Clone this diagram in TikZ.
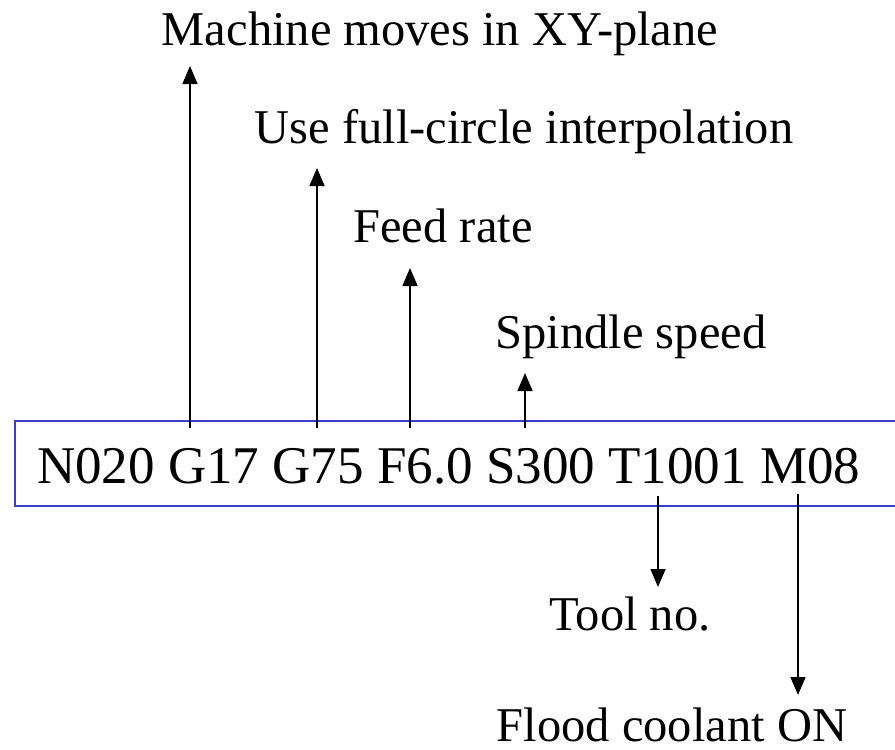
\documentclass[tikz,border=0pt]{standalone}
\usepackage{fontspec}
\setmainfont{Liberation Serif}
\usetikzlibrary{arrows.meta}
\definecolor{boxblue}{RGB}{60,60,205}
\tikzset{
  pointer/.style={line width=1.6pt,-{Triangle[width=15pt,length=18pt]}},
  label/.style={anchor=base,inner sep=0pt,font=\fontsize{48.5}{50}\selectfont},
}
\begin{document}
\begin{tikzpicture}[x=1pt,y=-1pt]
  \useasboundingbox (0,0) rectangle (895,750);

  % Box
  \draw[boxblue,line width=1.6pt] (15,421) rectangle (915,506);
  \node[anchor=base west,inner sep=0pt,font=\fontsize{53}{56}\selectfont] (code) at (37,483) {N020 G17 G75 F6.0 S300 T1001 M08};

  % Labels
  \node[label] (plane) at (440,45) {Machine moves in XY-plane};
  \node[label] (circle) at (524,143) {Use full-circle interpolation};
  \node[label] (feed) at (443,242) {Feed rate};
  \node[label] (spindle) at (631,348) {Spindle speed};
  \node[label] (tool) at (630,630) {Tool no.};
  \node[label] (coolant) at (672,741) {Flood coolant ON};

  % Arrow ends
  \coordinate (g17) at (190,428);
  \coordinate (g17tip) at (190,66);
  \coordinate (g75) at (317,428);
  \coordinate (g75tip) at (317,168);
  \coordinate (f60) at (410,428);
  \coordinate (f60tip) at (410,268);
  \coordinate (s300) at (525,428);
  \coordinate (s300tip) at (525,373);
  \coordinate (t1001) at (658,496);
  \coordinate (t1001tip) at (658,587);
  \coordinate (m08) at (798,494);
  \coordinate (m08tip) at (798,695);

  % Arrows
  \draw[pointer] (g17) -- (g17tip);
  \draw[pointer] (g75) -- (g75tip);
  \draw[pointer] (f60) -- (f60tip);
  \draw[pointer] (s300) -- (s300tip);
  \draw[pointer] (t1001) -- (t1001tip);
  \draw[pointer] (m08) -- (m08tip);
\end{tikzpicture}
\end{document}
